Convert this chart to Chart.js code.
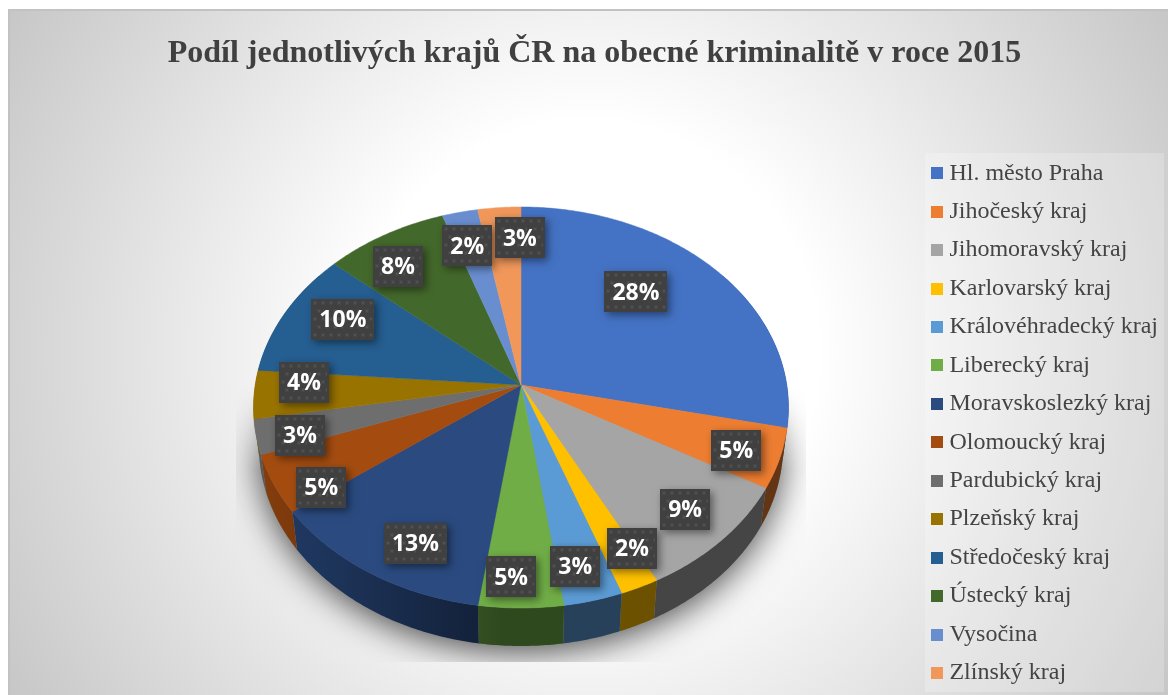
<!DOCTYPE html>
<html lang="cs"><head><meta charset="utf-8">
<script src="https://cdn.jsdelivr.net/npm/chart.js@4"></script>
<style>html,body{margin:0;padding:0;background:#fff}canvas{display:block}</style>
</head><body><canvas id="c" width="1168" height="695"></canvas>
<script>
const titleText = 'Podíl jednotlivých krajů ČR na obecné kriminalitě v roce 2015';
const regions = ['Hl. město Praha','Jihočeský kraj','Jihomoravský kraj','Karlovarský kraj','Královéhradecký kraj','Liberecký kraj','Moravskoslezký kraj','Olomoucký kraj','Pardubický kraj','Plzeňský kraj','Středočeský kraj','Ústecký kraj','Vysočina','Zlínský kraj'];
const shares = [28.4,4.8,9.2,2.1,3.2,4.6,12.52,4.68,2.8,3.9,10.2,8.3,2.4,2.9];
const sliceColors = ['#4472C4','#ED7D31','#A5A5A5','#FFC000','#5B9BD5','#70AD47','#2A4A80','#A44C10','#6E6E6E','#997300','#255E91','#43682B','#698ED0','#F1975A'];
const labelRadius = [.674,.843,.824,.845,.853,.875,.819,.862,.846,.818,.777,.809,.793,.81];
const labelTurn = [-8.5,1.2,-.5,-3.3,1.5,2.2,-4.4,-6.3,-2.4,3.7,3.7,-3.8,-1.3,4.9];

// perspective view of the disc
const view = {cx:521, cy:385, rx:265.8, ry:198, k:-0.1122, depth:38, shrink:0.98};
function project(theta, r){
  const u = r*Math.sin(theta), v = -r*Math.cos(theta), w = 1 + view.k*v;
  return {x:view.cx + view.rx*u/w, y:view.cy + view.ry*v/w};
}
function lower(p){ return {x:view.cx + (p.x-view.cx)*view.shrink, y:p.y + view.depth}; }
function rgb(hex,f){
  const n = parseInt(hex.slice(1),16);
  return 'rgb('+[(n>>16)&255,(n>>8)&255,n&255].map(c=>Math.round(c*f)).join(',')+')';
}
function rimPoints(a0,a1){
  const n = Math.max(2,Math.ceil((a1-a0)/0.01)), out=[];
  for(let i=0;i<=n;i++) out.push(project(a0+(a1-a0)*i/n,1));
  return out;
}
function turnAngles(el){ return [el.startAngle+Math.PI/2, el.endAngle+Math.PI/2]; }

function dotPattern(ctx){
  const p = document.createElement('canvas'); p.width=16; p.height=16;
  const g = p.getContext('2d');
  g.fillStyle='#404040'; g.fillRect(0,0,16,16);
  [[3,3],[11,3],[7,11],[15,11]].forEach(([x,y])=>{
    g.fillStyle='#464646'; g.fillRect(x-1,y-1,4,4);
    g.fillStyle='#515151'; g.fillRect(x,y,2,2);
  });
  return ctx.createPattern(p,'repeat');
}
function legendSwatch(color){
  const s = document.createElement('canvas'); s.width=12; s.height=12;
  const g = s.getContext('2d'); g.fillStyle=color; g.fillRect(0,0,12,12);
  return s;
}
function softShadow(){
  const s = document.createElement('canvas'); s.width=1168; s.height=695;
  const c = s.getContext('2d');
  c.save();
  c.shadowColor='rgba(0,0,0,0.7)'; c.shadowBlur=34; c.shadowOffsetY=6;
  c.fillStyle='#888'; c.beginPath();
  rimPoints(0,Math.PI*2).forEach((p,i)=>{const q=lower(p); i?c.lineTo(q.x,q.y):c.moveTo(q.x,q.y);});
  c.closePath(); c.fill();
  c.restore();
  c.globalCompositeOperation='destination-in';
  const m = c.createLinearGradient(0,385,0,470);
  m.addColorStop(0,'rgba(0,0,0,0)'); m.addColorStop(1,'rgba(0,0,0,1)');
  c.fillStyle=m; c.fillRect(236,385,570,277);
  return s;
}

const scene = {
  id:'scene',
  afterLayout(chart){
    const L = chart.legend;
    L.left = 922; L.right = 1164; L.top = 146.8; L.bottom = 700;
    const T = chart.titleBlock;
    T.left = 10; T.right = 1179; T.top = 35; T.bottom = 83;
  },
  beforeDraw(chart){
    const c = chart.ctx;
    c.save();
    c.fillStyle='#fff'; c.fillRect(0,0,1168,695);
    const g = c.createRadialGradient(588,352,230,588,352,680);
    g.addColorStop(0,'#ffffff'); g.addColorStop(1,'#c6c6c6');
    c.fillStyle=g; c.fillRect(9,10,1159,685);
    c.fillStyle='#c2c2c2'; c.fillRect(8,9,1160,2); c.fillRect(8,9,2,686);
    c.fillStyle='rgba(255,255,255,0.22)'; c.fillRect(925,153,239,539);
    c.restore();
  },
  beforeDatasetDraw(chart,args){
    const c = chart.ctx, arcs = chart.getDatasetMeta(args.index).data;
    c.drawImage(softShadow(),0,0);
    // side wall
    arcs.forEach((el,i)=>{
      const [a0,a1] = turnAngles(el);
      const s = Math.max(a0,Math.PI*0.3), e = Math.min(a1,Math.PI*1.7);
      if(e<=s) return;
      const top = rimPoints(s,e), bot = top.map(lower).reverse();
      const g = c.createLinearGradient(255,0,500,0);
      g.addColorStop(0,rgb(sliceColors[i],0.82)); g.addColorStop(1,rgb(sliceColors[i],0.42));
      c.fillStyle=g; c.beginPath();
      top.concat(bot).forEach((p,j)=>{j?c.lineTo(p.x,p.y):c.moveTo(p.x,p.y);});
      c.closePath(); c.fill();
    });
    // top surface
    arcs.forEach((el,i)=>{
      const [a0,a1] = turnAngles(el);
      c.fillStyle=sliceColors[i]; c.strokeStyle=sliceColors[i]; c.lineWidth=.5;
      c.beginPath(); c.moveTo(view.cx,view.cy);
      rimPoints(a0,a1).forEach(p=>c.lineTo(p.x,p.y));
      c.closePath(); c.fill(); c.stroke();
    });
    // value labels
    const fill = dotPattern(c), total = shares.reduce((a,b)=>a+b,0);
    c.font='700 23px "Open Sans"'; c.textAlign='center'; c.textBaseline='middle';
    arcs.forEach((el,i)=>{
      const [a0,a1] = turnAngles(el);
      const p = project((a0+a1)/2 + labelTurn[i]*Math.PI/180, labelRadius[i]);
      const text = Math.round(shares[i]/total*100)+'%';
      const w = Math.round(c.measureText(text).width+16), h=41;
      const bx = Math.round(p.x-w/2), by = Math.round(p.y-h/2);
      c.save();
      c.shadowColor='rgba(0,0,0,0.45)'; c.shadowBlur=8; c.shadowOffsetX=3; c.shadowOffsetY=3;
      c.fillStyle='#404040'; c.fillRect(bx,by,w,h);
      c.restore();
      c.save(); c.translate(bx,by);
      c.fillStyle=fill; c.fillRect(0,0,w,h);
      c.restore();
      c.fillStyle='#fff'; c.fillText(text,p.x,p.y+1);
    });
    return false;
  }
};

new Chart(document.getElementById('c'),{
  type:'pie',
  data:{labels:regions,datasets:[{data:shares,backgroundColor:sliceColors,borderWidth:0}]},
  options:{
    responsive:false, animation:false,
    plugins:{
      tooltip:{enabled:false},
      title:{display:true,text:titleText,color:'#404040',font:{family:'"Liberation Serif"',size:32,weight:'bold',lineHeight:1.2},padding:0},
      legend:{display:true,position:'right',align:'start',
        labels:{color:'#444444',font:{family:'"Liberation Serif"',size:24},padding:14.44,usePointStyle:true,pointStyleWidth:1,
          generateLabels(chart){
            return chart.data.labels.map((t,i)=>({text:t,index:i,fontColor:'#444444',pointStyle:legendSwatch(sliceColors[i]),lineWidth:0,strokeStyle:'transparent',fillStyle:sliceColors[i]}));
          }}
      }
    }
  },
  plugins:[scene]
});
</script></body></html>
